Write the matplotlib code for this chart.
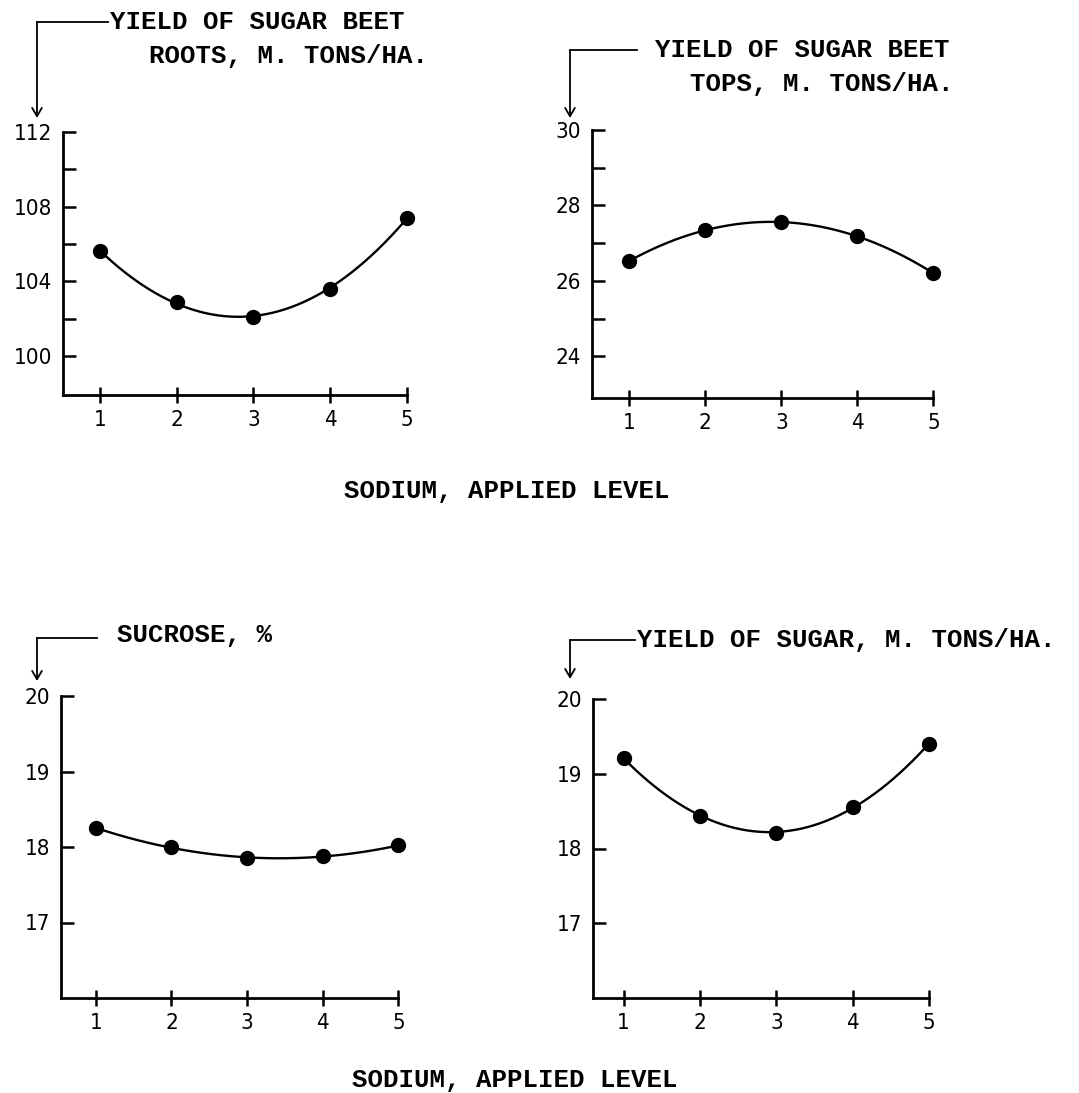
"""Sugar beet response to applied sodium: four panels with fitted quadratic curves.

  python plot.py            # -> out.png
"""

import numpy as np
import matplotlib
matplotlib.use("Agg")
import matplotlib.pyplot as plt
from matplotlib.lines import Line2D
from matplotlib.patches import FancyArrowPatch

W, H = 1079, 1093

LEVELS = [1, 2, 3, 4, 5]
ROOTS = [105.6, 102.9, 102.1, 103.6, 107.4]
TOPS = [26.53, 27.35, 27.55, 27.19, 26.2]
SUCROSE = [18.25, 18.0, 17.85, 17.88, 18.02]
SUGAR = [19.21, 18.44, 18.21, 18.56, 19.4]

ROOTS_TICKS = [100, 104, 108, 112]
TOPS_TICKS = [24, 26, 28, 30]
PCT_TICKS = [17, 18, 19, 20]

XLABEL = "SODIUM, APPLIED LEVEL"

TYPE = dict(family=["Liberation Mono", "DejaVu Sans Mono"], weight="bold", fontsize=18.5)
TICKFONT = dict(family=["DejaVu Sans"], stretch="condensed")


def px(x, y):
    return x / W, 1 - y / H


def panel(fig, box, xlim, ylim, y, yticks, minor):
    # box is (left, top, right, bottom) in pixels of the figure
    l, t, r, b = box
    ax = fig.add_axes([l / W, 1 - b / H, (r - l) / W, (b - t) / H])
    xs = np.linspace(1, 5, 200)
    coef = np.polyfit(LEVELS, y, 2)
    ax.plot(xs, np.polyval(coef, xs), color="black", lw=1.7, clip_on=False)
    ax.plot(LEVELS, y, "o", color="black", ms=10, clip_on=False, zorder=3)
    ax.set_xlim(*xlim); ax.set_ylim(*ylim)
    for s in ("top", "right"):
        ax.spines[s].set_visible(False)
    for s in ("left", "bottom"):
        ax.spines[s].set_linewidth(2.0)
    ax.spines["left"].set_bounds(ylim[0], yticks[-1])
    ax.spines["bottom"].set_bounds(xlim[0], 5)
    ax.set_xticks(LEVELS); ax.set_yticks(yticks)
    if minor:
        ax.set_yticks(minor, minor=True)
    ax.tick_params(axis="y", which="both", direction="in", length=9, width=1.8, pad=8, labelsize=16)
    ax.tick_params(axis="x", direction="inout", length=12, width=1.8, pad=5, labelsize=16)
    for lab in ax.get_xticklabels() + ax.get_yticklabels():
        lab.set_fontfamily(TICKFONT["family"]); lab.set_fontstretch(TICKFONT["stretch"])
    return ax


def leader(fig, x0, x1, y, ytip):
    # horizontal rule from the title to the corner, then an arrow down to the axis
    fig.add_artist(Line2D([x0 / W, x1 / W], [1 - y / H, 1 - y / H], color="black", lw=1.3,
                          transform=fig.transFigure))
    fig.add_artist(FancyArrowPatch(px(x0, y), px(x0, ytip), transform=fig.transFigure,
                                   arrowstyle="->,head_length=6,head_width=3.5", color="black",
                                   lw=1.3, shrinkA=0, shrinkB=0))


def main():
    fig = plt.figure(figsize=(W / 100, H / 100), dpi=100, facecolor="white")

    panel(fig, (63, 132, 410, 395), (0.52, 5.04), (97.9, 112), ROOTS, ROOTS_TICKS, [102, 106, 110])
    panel(fig, (592, 130, 935, 398), (0.51, 5.02), (22.9, 30), TOPS, TOPS_TICKS, [25, 27, 29])
    panel(fig, (61, 696, 400, 998), (0.54, 5.02), (16.0, 20), SUCROSE, PCT_TICKS, None)
    panel(fig, (593, 699, 930, 998), (0.6, 5.01), (16.0, 20), SUGAR, PCT_TICKS, None)

    leader(fig, 37, 108, 22, 118)
    fig.text(*px(110, 22), "YIELD OF SUGAR BEET", ha="left", va="center", **TYPE)
    fig.text(*px(428, 56), "ROOTS, M. TONS/HA.", ha="right", va="center", **TYPE)

    leader(fig, 570, 637, 50, 118)
    fig.text(*px(655, 50), "YIELD OF SUGAR BEET", ha="left", va="center", **TYPE)
    fig.text(*px(954, 84), "TOPS, M. TONS/HA.", ha="right", va="center", **TYPE)

    leader(fig, 37, 97, 638, 681)
    fig.text(*px(117, 635), "SUCROSE, %", ha="left", va="center", **TYPE)

    leader(fig, 570, 635, 640, 679)
    fig.text(*px(637, 640), "YIELD OF SUGAR, M. TONS/HA.", ha="left", va="center", **TYPE)

    fig.text(*px(507, 491), XLABEL, ha="center", va="center", **TYPE)
    fig.text(*px(515, 1080), XLABEL, ha="center", va="center", **TYPE)

    fig.savefig("out.png", dpi=100, facecolor="white")
    plt.close(fig)


if __name__ == "__main__":
    main()
